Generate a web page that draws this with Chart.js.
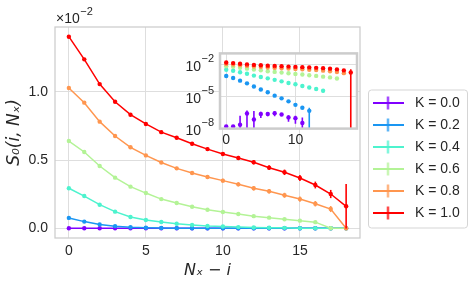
<!DOCTYPE html>
<html><head><meta charset="utf-8">
<script src="https://cdn.jsdelivr.net/npm/chart.js@4.4.0/dist/chart.umd.min.js"></script>
<style>
html,body{margin:0;padding:0;background:#fff;}
#wrap{position:relative;width:474px;height:289px;overflow:hidden;}
#main{position:absolute;left:0;top:0;}
#inset{position:absolute;left:170px;top:26px;}
</style></head><body>
<div id="wrap"><canvas id="main" width="474" height="289" style="width:474px;height:289px"></canvas><canvas id="inset" width="195" height="130" style="width:195px;height:130px"></canvas></div>
<script>
// x positions: N_x - i
const sites = [0,1,2,3,4,5,6,7,8,9,10,11,12,13,14,15,16,17,18];
const seriesLabels = ['K = 0.0','K = 0.2','K = 0.4','K = 0.6','K = 0.8','K = 1.0'];
const seriesColors = ['#8000ff','#1a96f2','#4df3ce','#b3f396','#ff964f','#ff0000'];
// S_0(i, N_x) in units of 1e-2
const s0_K00 = [1.4e-6,1.4e-6,2.1e-6,2.3e-5,6.4e-6,2.1e-5,2.1e-5,2.5e-5,1.9e-5,1.0e-5,8.5e-6,3.0e-6,0,0,0,0,0,0,0];
const s0_K02 = [0.076,0.049,0.028,0.0156,0.0080,0.0041,0.0023,0.0011,0.00061,0.00032,0.00015,0.00008,0.000041,0,0,0,0,0,0];
const s0_K04 = [0.293,0.236,0.173,0.122,0.083,0.061,0.046,0.033,0.024,0.017,0.013,0.0089,0.0064,0.0046,0.0032,0,0,0,0];
const s0_K06 = [0.639,0.559,0.456,0.371,0.305,0.258,0.214,0.185,0.158,0.136,0.119,0.105,0.089,0.078,0.066,0.056,0.045,0,0];
const s0_K08 = [1.027,0.920,0.781,0.676,0.593,0.534,0.482,0.439,0.405,0.376,0.349,0.322,0.293,0.271,0.242,0.214,0.180,0.141,0];
const s0_K10 = [1.403,1.237,1.056,0.927,0.832,0.764,0.704,0.663,0.619,0.580,0.544,0.515,0.484,0.444,0.410,0.368,0.317,0.251,0.161];
// error bars, same units
const err_K00 = [0,0,1.2e-5,2.2e-5,3.3e-5,1.2e-5,8e-6,1.2e-5,5e-6,6e-6,6e-6,7e-6,0,0,0,0,0,0,0];
const err_K02 = [0,0,0,0,0,0,0,0,0,0,0,0,0.00004,0,0,0,0,0,0];
const err_K04 = [0.002,0.002,0.002,0.002,0.002,0.002,0.002,0.002,0.001,0.001,0.001,0.001,0.001,0.001,0.001,0,0,0,0];
const err_K06 = [0.003,0.003,0.003,0.003,0.003,0.003,0.003,0.003,0.004,0.004,0.004,0.004,0.004,0.004,0.004,0.005,0.005,0,0];
const err_K08 = [0.004,0.005,0.006,0.007,0.008,0.009,0.010,0.011,0.012,0.013,0.014,0.015,0.016,0.017,0.018,0.019,0.020,0.022,0];
const err_K10 = [0.004,0.005,0.006,0.007,0.008,0.009,0.010,0.011,0.012,0.013,0.014,0.015,0.016,0.018,0.020,0.022,0.025,0.030,0.163];
const unitScale = 1e-2;
const mainXTicks = [0,5,10,15];
const mainYTicks = [0.0,0.5,1.0];
const insetXTicks = [0,10];
const insetYTicks = [1e-8,1e-5,1e-2];
const insetYTickBase = '10';
const insetYTickExponents = ['−8','−5','−2'];

const allSeries = [s0_K00,s0_K02,s0_K04,s0_K06,s0_K08,s0_K10];
const allErrors = [err_K00,err_K02,err_K04,err_K06,err_K08,err_K10];

const FAMILY = '"Liberation Sans", Arial, sans-serif';
const TICK_FONT = {family:FAMILY, size:14};
const TICK_COLOR = '#262626';
const GRID = '#dedede';
const FRAME = '#cccccc';

function legendGlyph(color){
  const c=document.createElement('canvas'); c.width=31; c.height=14;
  const g=c.getContext('2d'); g.strokeStyle=color; g.lineWidth=1.8;
  g.beginPath(); g.moveTo(0,7); g.lineTo(31,7); g.moveTo(15.5,0.5); g.lineTo(15.5,13.5); g.stroke();
  return c;
}
const glyphs = seriesColors.map(legendGlyph);

const errorBars = {
  id:'errorBars',
  afterDatasetsDraw(chart){
    const ctx=chart.ctx, xs=chart.scales.x, ys=chart.scales.y, a=chart.chartArea;
    ctx.save(); ctx.beginPath(); ctx.rect(a.left,a.top-2,a.right-a.left,a.bottom-a.top+2); ctx.clip();
    chart.data.datasets.forEach((ds,i)=>{
      if(!ds.errors) return;
      ds.data.forEach((p,j)=>{
        const e=ds.errors[j]; if(!e || p.y==null) return;
        let lo=p.y-e, hi=p.y+e;
        if(ys.type==='logarithmic' && lo<=0) lo=ys.min;
        const x=xs.getPixelForValue(p.x);
        ctx.strokeStyle=ds.borderColor; ctx.lineWidth=1.6;
        ctx.beginPath(); ctx.moveTo(x,ys.getPixelForValue(lo)); ctx.lineTo(x,ys.getPixelForValue(hi)); ctx.stroke();
      });
    });
    ctx.restore();
  }
};

const frame = {
  id:'frame',
  beforeDraw(chart,args,opts){
    if(opts.fill){ const a=chart.chartArea; chart.ctx.save(); chart.ctx.fillStyle=opts.fill; chart.ctx.fillRect(a.left,a.top,a.right-a.left,a.bottom-a.top); chart.ctx.restore(); }
  },
  afterDraw(chart,args,opts){
    const a=chart.chartArea, ctx=chart.ctx;
    ctx.save(); ctx.strokeStyle=FRAME; ctx.lineWidth=opts.width||1.25;
    ctx.strokeRect(a.left,a.top,a.right-a.left,a.bottom-a.top); ctx.restore();
  }
};

const mainDecor = {
  id:'mainDecor',
  beforeLayout(chart){
    const lg=chart.legend;
    if(lg && !lg._patched){ const f=lg.fit; lg.fit=function(){ f.call(this); this.width=114; }; lg._patched=true; }
  },
  afterDraw(chart){
    const ctx=chart.ctx, lg=chart.legend;
    ctx.save(); ctx.fillStyle=TICK_COLOR; ctx.textBaseline='alphabetic';
    ctx.font='14px '+FAMILY;
    ctx.fillText('×10',56,23); const w=ctx.measureText('×10').width;
    ctx.font='11px '+FAMILY;
    ctx.fillText('−2',56+w+0.5,15);
    ctx.restore();
    if(lg && lg.legendHitBoxes && lg.legendHitBoxes.length){
      const hb=lg.legendHitBoxes, f=hb[0], l=hb[hb.length-1];
      const x0=f.left, y0=f.top-6.5, x1=467, y1=l.top+l.height+7.5;
      ctx.save(); ctx.strokeStyle='#d5d5d5'; ctx.lineWidth=1;
      ctx.beginPath(); if(ctx.roundRect) ctx.roundRect(x0+0.5,y0+0.5,x1-x0,y1-y0,3); else ctx.rect(x0+0.5,y0+0.5,x1-x0,y1-y0);
      ctx.stroke(); ctx.restore();
    }
  }
};

const insetExponents = {
  id:'insetExponents',
  afterDraw(chart){
    const ctx=chart.ctx, ys=chart.scales.y, a=chart.chartArea;
    ctx.save(); ctx.fillStyle=TICK_COLOR; ctx.textBaseline='alphabetic'; ctx.textAlign='left';
    ctx.font='11px '+FAMILY;
    insetYTicks.forEach((t,k)=>{
      const y=ys.getPixelForValue(t);
      ctx.fillText(insetYTickExponents[k], a.left-18.5, y-2.5);
    });
    ctx.restore();
  }
};

const mainDatasets = allSeries.map((s,i)=>({
  label: seriesLabels[i],
  data: sites.map((x,j)=>({x:x, y:s[j]})),
  errors: allErrors[i],
  borderColor: seriesColors[i],
  backgroundColor: seriesColors[i],
  borderWidth: 1.5,
  pointRadius: 2.2,
  pointBorderWidth: 0,
  pointHoverRadius: 2.2,
  order: 5-i,
  tension: 0
}));

new Chart(document.getElementById('main'),{
  type:'line',
  data:{datasets: mainDatasets},
  options:{
    responsive:false, animation:false, events:[],
    layout:{padding:{left:0,right:0,top:27,bottom:0}},
    plugins:{
      tooltip:{enabled:false},
      frame:{width:1.25},
      legend:{
        position:'right', align:'center',
        labels:{
          usePointStyle:true, pointStyleWidth:40, padding:8, font:TICK_FONT, color:TICK_COLOR,
          sort:(a,b)=>a.datasetIndex-b.datasetIndex,
          generateLabels:(chart)=>chart.data.datasets.map((ds,i)=>({
            text:ds.label, fillStyle:ds.borderColor, strokeStyle:ds.borderColor, lineWidth:0,
            pointStyle:glyphs[i], datasetIndex:i, hidden:false, fontColor:TICK_COLOR
          }))
        }
      }
    },
    scales:{
      x:{
        type:'linear', min:-0.9, max:18.9,
        afterBuildTicks:(s)=>{ s.ticks=mainXTicks.map(v=>({value:v})); },
        afterFit:(s)=>{ s.height=51; },
        grid:{color:GRID, lineWidth:1, drawTicks:false},
        border:{display:false},
        ticks:{font:TICK_FONT, color:TICK_COLOR, padding:5, maxRotation:0, callback:(v)=>String(v)},
        title:{display:true, text:'Nₓ − i', color:TICK_COLOR, padding:{top:0,bottom:9},
          font:{family:'"DejaVu Sans", sans-serif', size:16, style:'italic'}}
      },
      y:{
        type:'linear', min:-0.071, max:1.474,
        afterBuildTicks:(s)=>{ s.ticks=mainYTicks.map(v=>({value:v})); },
        afterFit:(s)=>{ s.width=55; },
        grid:{color:GRID, lineWidth:1, drawTicks:false},
        border:{display:false},
        ticks:{font:TICK_FONT, color:TICK_COLOR, padding:7, callback:(v)=>Number(v).toFixed(1)},
        title:{display:true, text:'S₀(i, Nₓ)', color:TICK_COLOR, padding:{top:4,bottom:0},
          font:{family:'"DejaVu Sans", sans-serif', size:17, style:'italic'}}
      }
    }
  },
  plugins:[frame, errorBars, mainDecor]
});

const insetDatasets = allSeries.map((s,i)=>({
  label: seriesLabels[i],
  data: sites.map((x,j)=>({x:x, y: s[j]>0 ? s[j]*unitScale : null})),
  errors: allErrors[i].map(e=>e*unitScale),
  borderColor: seriesColors[i],
  backgroundColor: seriesColors[i],
  showLine:false,
  pointRadius: 2.2,
  pointBorderWidth: 0,
  pointHoverRadius: 2.2,
  order: 5-i
}));

new Chart(document.getElementById('inset'),{
  type:'line',
  data:{datasets: insetDatasets},
  options:{
    responsive:false, animation:false, events:[],
    layout:{padding:{left:0,right:8,top:5,bottom:0}},
    plugins:{tooltip:{enabled:false}, legend:{display:false}, frame:{width:2.5, fill:'#ffffff'}},
    scales:{
      x:{
        type:'linear', min:-0.9, max:18.9,
        afterBuildTicks:(s)=>{ s.ticks=insetXTicks.map(v=>({value:v})); },
        afterFit:(s)=>{ s.height=26; },
        grid:{color:GRID, lineWidth:1, drawTicks:false},
        border:{display:false},
        ticks:{font:TICK_FONT, color:TICK_COLOR, padding:3, maxRotation:0, callback:(v)=>String(v)}
      },
      y:{
        type:'logarithmic', min:Math.pow(10,-8.05), max:Math.pow(10,-1.0),
        afterBuildTicks:(s)=>{ s.ticks=insetYTicks.map(v=>({value:v})); },
        afterFit:(s)=>{ s.width=50; },
        grid:{color:GRID, lineWidth:1, drawTicks:false},
        border:{display:false},
        ticks:{font:TICK_FONT, color:TICK_COLOR, padding:19, labelOffset:3.5,
          callback:()=>insetYTickBase}
      }
    }
  },
  plugins:[frame, errorBars, insetExponents]
});
</script>
</body></html>
